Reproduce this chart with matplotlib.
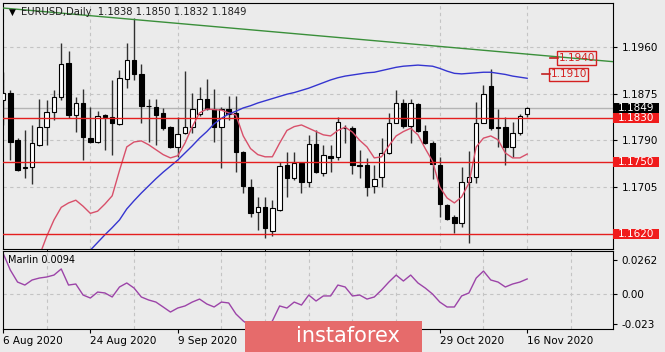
import matplotlib
matplotlib.use('Agg')
import matplotlib.pyplot as plt
import matplotlib.transforms as mtrans
from matplotlib.patches import Rectangle
import numpy as np

# EURUSD daily bars, 6 Aug 2020 .. 16 Nov 2020
opens = [1.1863, 1.1876, 1.1791, 1.1740, 1.1741, 1.1781, 1.1814, 1.1842, 1.1869, 1.1931,
         1.1836, 1.1858, 1.1794, 1.1787, 1.1836, 1.1832, 1.1820, 1.1902, 1.1936, 1.1911,
         1.1853, 1.1851, 1.1840, 1.1814, 1.1778, 1.1803, 1.1814, 1.1838, 1.1865, 1.1847,
         1.1814, 1.1847, 1.1840, 1.1769, 1.1705, 1.1659, 1.1669, 1.1625, 1.1663, 1.1745,
         1.1721, 1.1749, 1.1714, 1.1783, 1.1730, 1.1761, 1.1760, 1.1812, 1.1812, 1.1745,
         1.1745, 1.1707, 1.1723, 1.1767, 1.1822, 1.1858, 1.1816, 1.1856, 1.1807, 1.1785,
         1.1745, 1.1672, 1.1650, 1.1639, 1.1714, 1.1723, 1.1822, 1.1889, 1.1814, 1.1814,
         1.1778, 1.1803, 1.1838]
highs = [1.1914, 1.1882, 1.1794, 1.1809, 1.1818, 1.1865, 1.1863, 1.1882, 1.1967, 1.1953,
         1.1869, 1.1884, 1.1851, 1.1843, 1.1838, 1.1900, 1.1918, 1.1967, 1.2013, 1.1929,
         1.1865, 1.1865, 1.1849, 1.1816, 1.1832, 1.1916, 1.1876, 1.1887, 1.1902, 1.1884,
         1.1851, 1.1871, 1.1871, 1.1771, 1.1720, 1.1687, 1.1687, 1.1681, 1.1751, 1.1769,
         1.1769, 1.1751, 1.1800, 1.1809, 1.1781, 1.1781, 1.1832, 1.1818, 1.1816, 1.1772,
         1.1758, 1.1745, 1.1794, 1.1840, 1.1882, 1.1865, 1.1865, 1.1858, 1.1818, 1.1789,
         1.1760, 1.1674, 1.1654, 1.1741, 1.1771, 1.1860, 1.1891, 1.1920, 1.1847, 1.1832,
         1.1823, 1.1838, 1.1850]
lows = [1.1818, 1.1754, 1.1734, 1.1721, 1.1710, 1.1780, 1.1781, 1.1827, 1.1863, 1.1831,
        1.1805, 1.1754, 1.1785, 1.1785, 1.1772, 1.1763, 1.1818, 1.1885, 1.1900, 1.1822,
        1.1787, 1.1781, 1.1809, 1.1776, 1.1760, 1.1801, 1.1803, 1.1834, 1.1845, 1.1787,
        1.1740, 1.1827, 1.1732, 1.1694, 1.1650, 1.1627, 1.1612, 1.1616, 1.1661, 1.1687,
        1.1718, 1.1694, 1.1705, 1.1730, 1.1725, 1.1732, 1.1754, 1.1785, 1.1729, 1.1721,
        1.1689, 1.1694, 1.1705, 1.1766, 1.1821, 1.1812, 1.1785, 1.1806, 1.1784, 1.1720,
        1.1650, 1.1645, 1.1621, 1.1632, 1.1603, 1.1712, 1.1821, 1.1809, 1.1778, 1.1745,
        1.1760, 1.1800, 1.1832]
closes = [1.1876, 1.1787, 1.1736, 1.1741, 1.1785, 1.1814, 1.1842, 1.1869, 1.1929, 1.1836,
          1.1858, 1.1796, 1.1787, 1.1834, 1.1832, 1.1822, 1.1904, 1.1936, 1.1911, 1.1853,
          1.1852, 1.1836, 1.1812, 1.1778, 1.1802, 1.1814, 1.1847, 1.1865, 1.1847, 1.1814,
          1.1847, 1.1838, 1.1769, 1.1707, 1.1658, 1.1669, 1.1630, 1.1667, 1.1743, 1.1721,
          1.1749, 1.1714, 1.1783, 1.1732, 1.1763, 1.1758, 1.1823, 1.1813, 1.1745, 1.1744,
          1.1705, 1.1720, 1.1767, 1.1822, 1.1858, 1.1816, 1.1858, 1.1807, 1.1785, 1.1747,
          1.1674, 1.1647, 1.1639, 1.1714, 1.1723, 1.1822, 1.1874, 1.1812, 1.1813, 1.1778,
          1.1803, 1.1834, 1.1849]

# fast MA (red), starts at bar 5
ma_fast_start = 5
ma_fast = [1.1580, 1.1615, 1.1645, 1.1668, 1.1676, 1.1681, 1.1670, 1.1657, 1.1661, 1.1674,
           1.1689, 1.1735, 1.1778, 1.1787, 1.1789, 1.1782, 1.1773, 1.1764, 1.1758, 1.1762,
           1.1785, 1.1815, 1.1840, 1.1847, 1.1846, 1.1845, 1.1840, 1.1836, 1.1798, 1.1775,
           1.1764, 1.1760, 1.1760, 1.1785, 1.1808, 1.1815, 1.1818, 1.1812, 1.1806, 1.1800,
           1.1798, 1.1808, 1.1814, 1.1805, 1.1790, 1.1778, 1.1758, 1.1760, 1.1780, 1.1798,
           1.1806, 1.1812, 1.1800, 1.1775, 1.1752, 1.1705, 1.1685, 1.1676, 1.1687, 1.1712,
           1.1778, 1.1794, 1.1798, 1.1791, 1.1767, 1.1758, 1.1758, 1.1765]

# slow MA (blue), starts at bar 11
ma_slow_start = 11
ma_slow = [1.1575, 1.1590, 1.1604, 1.1618, 1.1631, 1.1645, 1.1665, 1.1680, 1.1694, 1.1707,
           1.1720, 1.1732, 1.1743, 1.1754, 1.1767, 1.1780, 1.1794, 1.1806, 1.1820, 1.1830,
           1.1838, 1.1843, 1.1849, 1.1853, 1.1858, 1.1862, 1.1866, 1.1870, 1.1874, 1.1877,
           1.1881, 1.1885, 1.1890, 1.1895, 1.1900, 1.1904, 1.1907, 1.1909, 1.1911, 1.1913,
           1.1914, 1.1917, 1.1920, 1.1923, 1.1925, 1.1926, 1.1927, 1.1926, 1.1925, 1.1921,
           1.1916, 1.1912, 1.1911, 1.1912, 1.1913, 1.1914, 1.1914, 1.1912, 1.1910, 1.1907,
           1.1905, 1.1903]

# Marlin oscillator
marlin = [0.0316, 0.0185, 0.0092, 0.0069, 0.0108, 0.0123, 0.0131, 0.0146, 0.0193, 0.0069,
          0.0077, -0.0008, -0.0031, 0.0015, 0.0008, -0.0023, 0.0054, 0.0085, 0.0046, -0.0023,
          -0.0046, -0.0062, -0.0100, -0.0139, -0.0108, -0.0092, -0.0062, -0.0039, -0.0077, -0.0100,
          -0.0062, -0.0069, -0.0154, -0.0208, -0.0247, -0.0262, -0.0254, -0.0208, -0.0092, -0.0108,
          -0.0062, -0.0085, -0.0008, -0.0054, -0.0015, -0.0015, 0.0069, 0.0054, -0.0015, -0.0008,
          -0.0039, -0.0023, 0.0031, 0.0092, 0.0146, 0.0100, 0.0146, 0.0085, 0.0046, 0.0000,
          -0.0062, -0.0100, -0.0100, -0.0015, 0.0008, 0.0123, 0.0177, 0.0108, 0.0092, 0.0054,
          0.0077, 0.0092, 0.0116]

# green trendline (bar index, price)
trend_bars = [0, 84]
trend_prices = [1.2031, 1.1933]

levels = [1.1830, 1.1750, 1.1620]
last_price = 1.1849
target_labels = ['1.1940', '1.1910']
target_prices = [1.1940, 1.1910]
target_bars = [76.2, 75.1]

price_ticks = [1.1705, 1.1790, 1.1875, 1.1960]
marlin_ticks = [-0.023, 0.0, 0.0262]
marlin_ticklabels = ['-0.023', '0.00', '0.0262']
date_bars = [0, 12, 24, 60, 72]
date_labels = ['6 Aug 2020', '24 Aug 2020', '9 Sep 2020', '29 Oct 2020', '16 Nov 2020']

W, H = 665, 352
BG = '#ebebeb'
fig = plt.figure(figsize=(W / 100, H / 100), dpi=100, facecolor=BG)
ax = fig.add_axes([3 / W, 1 - 249 / H, 610 / W, 246 / H], facecolor=BG)
ax2 = fig.add_axes([3 / W, 1 - 329 / H, 610 / W, 78 / H], facecolor=BG, sharex=ax)

n = len(opens)
x = np.arange(n)
xmax = 610 / 7.28

# candles
for i in range(n):
    o, h, l, c = opens[i], highs[i], lows[i], closes[i]
    ax.vlines(i, l, h, color='#303030', lw=1, zorder=2)
    bot = min(o, c)
    ht = max(abs(c - o), 0.00012)
    fc = 'white' if c >= o else 'black'
    ax.bar(i, ht, bottom=bot, width=0.62, color=fc, edgecolor='black', lw=0.8, zorder=3)

ax.plot(x[ma_fast_start:], ma_fast, color='#d8506a', lw=1, zorder=4)
ax.plot(x[ma_slow_start:], ma_slow, color='#3535d0', lw=1, zorder=4)
ax.plot(trend_bars, trend_prices, color='#3a8f3a', lw=1, zorder=4)

for lv in levels:
    ax.axhline(lv, color='#e41e1e', lw=1, zorder=5)
ax.axhline(last_price, color='#b4b4b4', lw=1, zorder=1)

# target labels
for lab, p, b in zip(target_labels, target_prices, target_bars):
    ax.plot([b - 1.1, b], [p, p], color='#c02020', lw=1.2, zorder=6)
    ax.text(b + 0.1, p, lab, color='#d42020', fontsize=7.5, va='center', ha='left', zorder=7,
            bbox=dict(boxstyle='square,pad=0.15', fc='none', ec='#d42020', lw=1))

ax.set_xlim(0, xmax)
ax.set_ylim(1.15921, 1.20401)
ax.set_yticks(price_ticks)
ax.set_yticklabels(['%.4f' % t for t in price_ticks])
ax.yaxis.tick_right()
ax.tick_params(axis='y', length=3, pad=3, labelsize=7.5, colors='black')
ax.tick_params(axis='x', length=0, labelbottom=False)
ax.set_xticks(np.arange(0, 84, 6))
ax.grid(True, color='#c4c4c4', ls=(0, (3, 3)), lw=0.8)
ax.set_axisbelow(True)
for s in ax.spines.values():
    s.set_color('black')

# right-hand price boxes
tr = mtrans.blended_transform_factory(ax.transAxes, ax.transData)
bw, bh = 46 / 610, 10 / 5490
for p, col in [(last_price, 'black')] + [(lv, '#f01c1c') for lv in levels]:
    ax.add_patch(Rectangle((1.0, p - bh / 2), bw, bh, transform=tr, fc=col, ec='none',
                           clip_on=False, zorder=8))
    ax.text(1.0 + bw / 2, p, '%.4f' % p, transform=tr, color='white', fontsize=7.5,
            ha='center', va='center', clip_on=False, zorder=9)

# chart caption
ax.text(6 / 610, 1.2023, '\u25bc', fontsize=6.5, va='center', ha='left', color='black',
        transform=tr, zorder=6)
ax.text(18 / 610, 1.2023, 'EURUSD,Daily  1.1838 1.1850 1.1832 1.1849', fontsize=7.2,
        va='center', ha='left', color='#202020', transform=tr, zorder=6)

# Marlin panel
ax2.plot(x, marlin, color='#9c44a8', lw=1)
ax2.set_ylim(-0.02696, 0.03313)
ax2.set_yticks(marlin_ticks)
ax2.set_yticklabels(marlin_ticklabels)
ax2.yaxis.tick_right()
ax2.tick_params(axis='y', length=3, pad=3, labelsize=7.5)
ax2.set_xticks(np.arange(0, 84, 6), minor=True)
ax2.set_xticks(date_bars)
ax2.set_xticklabels(date_labels, ha='left')
ax2.tick_params(axis='x', which='major', length=3, pad=2, labelsize=7.5)
ax2.tick_params(axis='x', which='minor', length=0)
ax2.grid(True, which='minor', axis='x', color='#c4c4c4', ls=(0, (3, 3)), lw=0.8)
ax2.axhline(0, color='#c4c4c4', ls=(0, (3, 3)), lw=0.8, zorder=0)
ax2.text(5 / 610, 0.0262, 'Marlin 0.0094', fontsize=7, va='center', ha='left',
         transform=mtrans.blended_transform_factory(ax2.transAxes, ax2.transData))

# watermark banner
fig.patches.append(Rectangle((245 / W, 0), 177 / W, 31 / H, transform=fig.transFigure,
                             fc='#e66b6b', ec='none', zorder=10))
fig.text(348 / W, 16 / H, 'instaforex', color='white', fontsize=15, ha='center',
         va='center', zorder=11)

fig.savefig('out.png', dpi=100, facecolor=BG)
